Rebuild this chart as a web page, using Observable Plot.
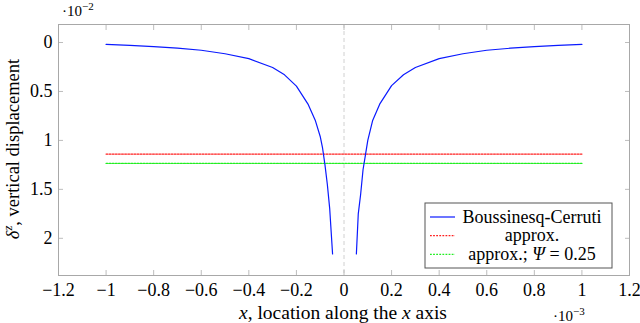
<!DOCTYPE html>
<html>
<head>
<meta charset="utf-8">
<script src="https://cdn.jsdelivr.net/npm/d3@7"></script>
<script src="https://cdn.jsdelivr.net/npm/@observablehq/plot@0.6"></script>
<style>
  html, body { margin: 0; padding: 0; background: #fff; }
  #chart { position: relative; width: 640px; height: 323px; }
  #chart svg, #chart svg text { font-family: "Liberation Serif", "Times New Roman", serif !important; }
</style>
</head>
<body>
<div id="chart"></div>
<script>
// Boussinesq-Cerruti curve, left branch (x in 1e-3, δz in 1e-2)
const leftX = [-1.0, -0.9, -0.8, -0.7, -0.6, -0.5, -0.4, -0.3, -0.25, -0.2, -0.15, -0.12, -0.1, -0.09, -0.08, -0.07, -0.06, -0.048];
const leftY = [0.02, 0.03, 0.042, 0.058, 0.079, 0.115, 0.165, 0.255, 0.33, 0.445, 0.635, 0.8, 0.96, 1.08, 1.25, 1.45, 1.7, 2.16];
// right branch
const rightX = [0.052, 0.06, 0.07, 0.08, 0.09, 0.1, 0.12, 0.15, 0.2, 0.25, 0.3, 0.4, 0.5, 0.6, 0.7, 0.8, 0.9, 1.0];
const rightY = [2.16, 1.75, 1.55, 1.3, 1.15, 1.0, 0.8, 0.63, 0.44, 0.33, 0.255, 0.165, 0.115, 0.079, 0.058, 0.042, 0.03, 0.02];
// approximations (constant)
const approxX = [-1, 1];
const approxY = [1.14, 1.14];
const approxPsiY = [1.235, 1.235];
const vLineX = [0];

const xTicks = [-1.2, -1, -0.8, -0.6, -0.4, -0.2, 0, 0.2, 0.4, 0.6, 0.8, 1, 1.2];
const yTicks = [0, 0.5, 1, 1.5, 2];

const seriesNames = ["Boussinesq-Cerruti", "approx.", "approx.; Ψ = 0.25"];

const left = leftX.map((x, i) => ({x, y: leftY[i]}));
const right = rightX.map((x, i) => ({x, y: rightY[i]}));
const approx = approxX.map((x, i) => ({x, y: approxY[i]}));
const approxPsi = approxX.map((x, i) => ({x, y: approxPsiY[i]}));

const fmt = d => d3.format("~g")(d);
const TICK = "#bdbdbd";
const RED = "#ff1f1f";
const GREEN = "#22ee22";
const DOTS = "1.8,1.3";

const plot = Plot.plot({
  width: 640,
  height: 323,
  marginLeft: 58,
  marginRight: 11,
  marginTop: 24,
  marginBottom: 48,
  style: {fontSize: "18px", background: "#fff", color: "#000"},
  x: {domain: [-1.2, 1.2]},
  y: {domain: [-0.184, 2.38], reverse: true},
  marks: [
    Plot.ruleX(vLineX, {x: d => d, stroke: "#d0d0d0", strokeDasharray: "4,3", strokeWidth: 1}),
    Plot.axisX(xTicks, {anchor: "bottom", tickSize: -5, text: null, label: null, stroke: TICK}),
    Plot.axisX(xTicks, {anchor: "top", tickSize: -5, text: null, label: null, stroke: TICK}),
    Plot.axisY(yTicks, {anchor: "left", tickSize: -5, text: null, label: null, stroke: TICK}),
    Plot.axisY(yTicks, {anchor: "right", tickSize: -5, text: null, label: null, stroke: TICK}),
    Plot.axisX(xTicks, {anchor: "bottom", tickSize: 0, tickPadding: 8, tickFormat: fmt, label: null, fontSize: 18}),
    Plot.axisY(yTicks, {anchor: "left", tickSize: 0, tickPadding: 6, tickFormat: fmt, label: null, fontSize: 18}),
    Plot.frame({stroke: "#a8a8a8", strokeWidth: 1}),
    Plot.line(approx, {x: "x", y: "y", stroke: RED, strokeWidth: 1.3, strokeDasharray: DOTS}),
    Plot.line(approxPsi, {x: "x", y: "y", stroke: GREEN, strokeWidth: 1.3, strokeDasharray: DOTS}),
    Plot.line(left, {x: "x", y: "y", stroke: "#0a1aff", strokeWidth: 1.2}),
    Plot.line(right, {x: "x", y: "y", stroke: "#0a1aff", strokeWidth: 1.2})
  ]
});

document.getElementById("chart").appendChild(plot);

const svg = d3.select(plot);
const ns = svg.append("g").attr("fill", "#000");

// x-axis label
const xl = ns.append("text").attr("x", 343).attr("y", 319).attr("text-anchor", "middle").attr("font-size", 19.5);
xl.append("tspan").attr("font-style", "italic").text("x");
xl.append("tspan").text(", location along the ");
xl.append("tspan").attr("font-style", "italic").text("x");
xl.append("tspan").text(" axis");

// y-axis label
const yl = ns.append("text").attr("transform", "translate(18.5,149) rotate(-90)").attr("text-anchor", "middle").attr("font-size", 18.5);
yl.append("tspan").attr("font-style", "italic").text("δ");
yl.append("tspan").attr("font-style", "italic").attr("font-size", 12.5).attr("dy", -7).text("z");
yl.append("tspan").attr("dy", 7).text(", vertical displacement");

// scale multipliers
const m2 = ns.append("text").attr("x", 62).attr("y", 16).attr("text-anchor", "start").attr("font-size", 15);
m2.append("tspan").text("·10");
m2.append("tspan").attr("font-size", 11).attr("dy", -6).text("−2");
const m3 = ns.append("text").attr("x", 553).attr("y", 321).attr("text-anchor", "start").attr("font-size", 15);
m3.append("tspan").text("·10");
m3.append("tspan").attr("font-size", 11).attr("dy", -6).text("−3");

// legend
const lg = ns.append("g").attr("transform", "translate(425,203)");
lg.append("rect").attr("width", 187).attr("height", 65).attr("fill", "#fff").attr("stroke", "#555").attr("stroke-width", 1);
const legendStyles = [
  {stroke: "#0a1aff", dash: null, w: 1.2},
  {stroke: RED, dash: DOTS, w: 1.3},
  {stroke: GREEN, dash: DOTS, w: 1.3}
];
seriesNames.forEach((name, i) => {
  const cy = 14 + i * 18.7;
  const s = legendStyles[i];
  lg.append("line").attr("x1", 5).attr("x2", 30).attr("y1", cy).attr("y2", cy)
    .attr("stroke", s.stroke).attr("stroke-width", s.w).attr("stroke-dasharray", s.dash);
  const t = lg.append("text").attr("x", 107).attr("y", cy + 5.5).attr("text-anchor", "middle").attr("font-size", 18);
  if (i === 2) {
    t.append("tspan").text("approx.; ");
    t.append("tspan").attr("font-style", "italic").text("Ψ");
    t.append("tspan").text(" = 0.25");
  } else {
    t.text(name);
  }
});
</script>
</body>
</html>
